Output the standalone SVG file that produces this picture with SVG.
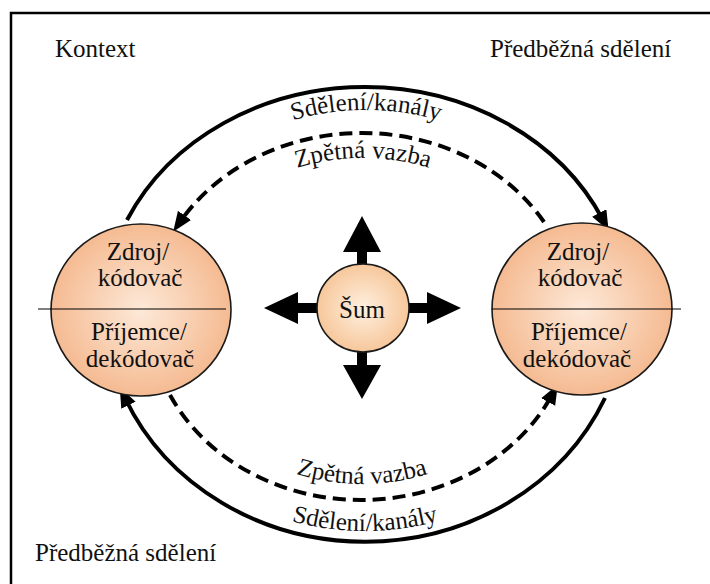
<svg xmlns="http://www.w3.org/2000/svg" width="710" height="584" viewBox="0 0 710 584" font-family="Liberation Serif, serif">
  <defs>
    <radialGradient id="peach" cx="50%" cy="50%" r="55%">
      <stop offset="0%" stop-color="#fde9d8"/>
      <stop offset="100%" stop-color="#f4b68b"/>
    </radialGradient>
    <radialGradient id="peachLight" cx="50%" cy="50%" r="55%">
      <stop offset="0%" stop-color="#fef0e0"/>
      <stop offset="100%" stop-color="#f6c394"/>
    </radialGradient>
    <marker id="head" markerUnits="userSpaceOnUse" markerWidth="22" markerHeight="18" refX="8" refY="8" orient="auto">
      <path d="M0,0 L20,8 L0,16 z" fill="#000"/>
    </marker>
    <path id="tpTop1" d="M136,310 A230,200 0 0 1 596,310"/>
    <path id="tpTop2" d="M173,315 A190,157 0 0 1 553,315"/>
    <path id="tpBot2" d="M167,314 A195,170 0 0 0 557,314"/>
    <path id="tpBot1" d="M115,306 A250,225 0 0 0 615,306"/>
  </defs>
  <rect x="0" y="0" width="710" height="584" fill="#fff"/>
  <rect x="11" y="13" width="720" height="590" fill="none" stroke="#000" stroke-width="2.5"/>

  <g id="labels" fill="#111">
    <text font-family="Liberation Serif" font-size="25" x="55" y="57">Kontext</text>
    <text font-family="Liberation Serif" font-size="25" x="490" y="57">Předběžná sdělení</text>
    <text font-family="Liberation Serif" font-size="25" x="35" y="561">Předběžná sdělení</text>
  </g>

  <g id="connectors" fill="none" stroke="#000" stroke-width="4">
    <path d="M127,220 A262,228.5 0 0 1 603,220" marker-end="url(#head)"/>
    <path d="M544,222 A212,182.7 0 0 0 180,222" stroke-dasharray="13 7" marker-end="url(#head)"/>
    <path d="M170,395 A212,185.5 0 0 0 552,395" stroke-dasharray="13 7" marker-end="url(#head)"/>
    <path d="M605,398 A262,240 0 0 1 125,398" marker-end="url(#head)"/>
  </g>
  <g id="connector-labels" fill="#111">
    <text font-family="Liberation Serif" font-size="25"><textPath href="#tpTop1" startOffset="50%" text-anchor="middle">Sdělení/kanály</textPath></text>
    <text font-family="Liberation Serif" font-size="25"><textPath href="#tpTop2" startOffset="50%" text-anchor="middle">Zpětná vazba</textPath></text>
    <text font-family="Liberation Serif" font-size="25"><textPath href="#tpBot2" startOffset="50%" text-anchor="middle">Zpětná vazba</textPath></text>
    <text font-family="Liberation Serif" font-size="25"><textPath href="#tpBot1" startOffset="50%" text-anchor="middle">Sdělení/kanály</textPath></text>
  </g>

  <g id="noise-arrows" fill="#000">
    <polygon points="357,270 357,252 343,252 362,216 381,252 367,252 367,270"/>
    <polygon points="357,345 357,365 343,365 362,399 381,365 367,365 367,345"/>
    <polygon points="325,303 298,303 298,292 264,308 298,324 298,313 325,313"/>
    <polygon points="400,303 427,303 427,292 461,308 427,324 427,313 400,313"/>
  </g>

  <g id="node-left">
    <ellipse cx="141" cy="310" rx="90" ry="86" fill="url(#peach)" stroke="#1a1a1a" stroke-width="1.6"/>
    <line x1="38" y1="309" x2="226" y2="309" stroke="#000" stroke-width="1.2"/>
    <g fill="#111" text-anchor="middle">
      <text font-family="Liberation Serif" font-size="25" x="138" y="260">Zdroj/</text>
      <text font-family="Liberation Serif" font-size="25" x="140" y="286">kódovač</text>
      <text font-family="Liberation Serif" font-size="25" x="139" y="340">Příjemce/</text>
      <text font-family="Liberation Serif" font-size="25" x="140" y="367">dekódovač</text>
    </g>
  </g>

  <g id="node-right">
    <ellipse cx="582" cy="309" rx="90" ry="86" fill="url(#peach)" stroke="#1a1a1a" stroke-width="1.6"/>
    <line x1="492" y1="309" x2="681" y2="309" stroke="#000" stroke-width="1.2"/>
    <g fill="#111" text-anchor="middle">
      <text font-family="Liberation Serif" font-size="25" x="578" y="260">Zdroj/</text>
      <text font-family="Liberation Serif" font-size="25" x="580" y="286">kódovač</text>
      <text font-family="Liberation Serif" font-size="25" x="579" y="340">Příjemce/</text>
      <text font-family="Liberation Serif" font-size="25" x="577" y="367">dekódovač</text>
    </g>
  </g>

  <g id="node-noise">
    <ellipse cx="363" cy="308" rx="46" ry="44" fill="url(#peachLight)" stroke="#1a1a1a" stroke-width="1.6"/>
    <text font-family="Liberation Serif" font-size="25" fill="#111" text-anchor="middle" x="362" y="318">Šum</text>
  </g>
</svg>
